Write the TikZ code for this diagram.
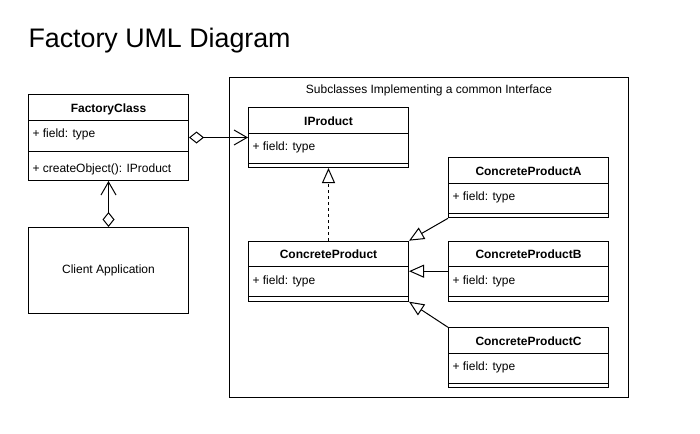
\documentclass[tikz,border=0pt]{standalone}
\usepackage{fontspec}
\setmainfont{Liberation Sans}
\usetikzlibrary{arrows.meta,positioning}

\begin{document}
\begin{tikzpicture}[x=1pt, y=-1pt, line width=1pt, font=\fontsize{12}{14}\selectfont,
		box/.style={draw, anchor=north west, minimum width=160pt, minimum height=60pt, inner sep=0pt},
		head/.style={anchor=base, inner sep=0pt, font=\fontsize{12}{14}\selectfont\bfseries},
		field/.style={anchor=base west, inner sep=0pt},
		agg/.style={{Diamond[open,length=15pt,width=12pt]}-{Straight Barb[length=13pt,width=15pt]}},
		inherit/.style={-{Triangle[open,length=15pt,width=13pt]}}]
		\useasboundingbox (0,0) rectangle (700,433);
		\node[anchor=base west, inner sep=0pt, font=\fontsize{26.8}{30}\selectfont] (title) at (28,47.5) {Factory UML Diagram};
		% container of the subclasses
		\node[draw, anchor=north west, minimum width=399pt, minimum height=320pt] (sub) at (229,77) {};
		\node[anchor=base, inner sep=0pt] (sublabel) at ([yshift=-17pt]sub.north) {Subclasses Implementing a common Interface};
		% factory and client
		\node[box, minimum height=86pt] (fc) at (28,94) {};
		\node[head] (fc-head) at ([yshift=-18pt]fc.north) {FactoryClass};
		\node[field] (fc-field) at ([xshift=4pt,yshift=-43.5pt]fc.north west) {+ field: type};
		\node[field] (fc-op) at ([xshift=4pt,yshift=-78pt]fc.north west) {+ createObject(): IProduct};
		\draw ([yshift=-26pt]fc.north west) -- ([yshift=-26pt]fc.north east);
		\draw ([yshift=-57pt]fc.north west) -- ([yshift=-57pt]fc.north east);
		\node[box, minimum height=86pt] (cl) at (28,227) {};
		\node (cl-text) at (cl.center) {Client Application};
		% product classes
		\foreach \n/\t/\x/\y in {ip/IProduct/248/107, cp/ConcreteProduct/248/240.7, pa/ConcreteProductA/448/157.3, pb/ConcreteProductB/448/240.7, pc/ConcreteProductC/448/327.3}{
			\node[box] (\n) at (\x,\y) {};
			\node[head] (\n-head) at ([yshift=-18pt]\n.north) {\t};
			\node[field] (\n-field) at ([xshift=4pt,yshift=-43.5pt]\n.north west) {+ field: type};
			\draw ([yshift=-26pt]\n.north west) -- ([yshift=-26pt]\n.north east);
			\draw ([yshift=-56pt]\n.north west) -- ([yshift=-56pt]\n.north east);
		}
		% connectors
		\draw[agg] (cl.north) -- (fc.south);
		\draw[agg] (fc.east) -- (fc.east -| ip.west);
		\draw[inherit, dash pattern=on 3pt off 3pt] (cp.north) -- (ip.south);
		\draw[inherit] (pa.south west) -- (cp.north east);
		\draw[inherit] (pb.west) -- (cp.east);
		\draw[inherit] (pc.north west) -- (cp.south east);
\end{tikzpicture}
\end{document}
